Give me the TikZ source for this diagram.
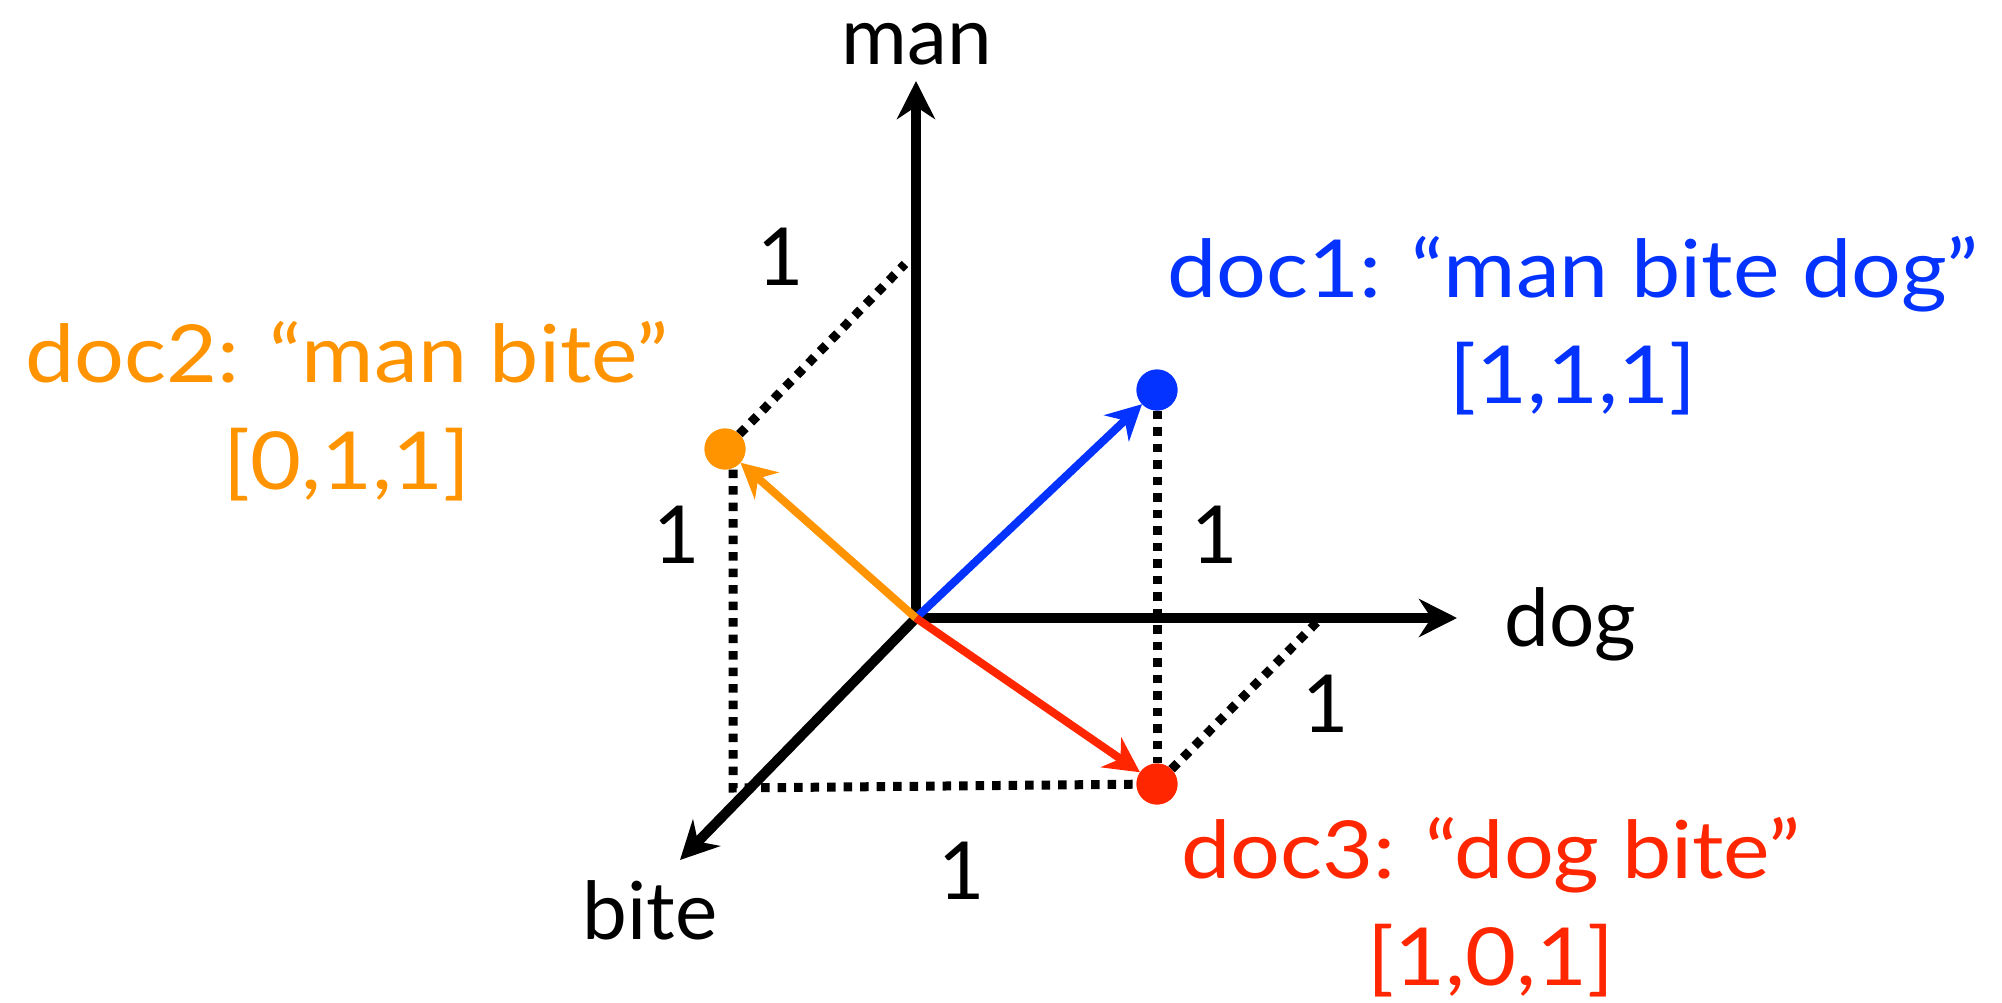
\documentclass[tikz,border=0pt]{standalone}
\usepackage{fontspec}
\setmainfont{Lato}
\newfontfamily\docfont{Lato}[FakeStretch=1.1]
\usetikzlibrary{positioning,arrows.meta}

\definecolor{docblue}{RGB}{4,51,255}
\definecolor{docorange}{RGB}{255,147,0}
\definecolor{docred}{RGB}{255,38,0}

\tikzset{
  axis/.style={line width=10pt, -{Stealth[length=38pt,width=38pt]}},
  docvec/.style={line width=8pt, draw=#1, -{Stealth[length=35pt,width=36pt]}},
  proj/.style={line width=9pt, dash pattern=on 8.5pt off 8pt},
  docdot/.style={circle, fill=#1, inner sep=0pt, minimum size=41pt},
  word/.style={font=\fontsize{80}{96}\selectfont, anchor=base, inner sep=0pt},
  doctext/.style={word, text=#1, font=\docfont\fontsize{80}{96}\selectfont},
}

\begin{document}
\begin{tikzpicture}[x=1pt, y=-1pt]
  \useasboundingbox (0,0) rectangle (2002,1003);
  \coordinate (o) at (916,618);
  \coordinate [above=537pt of o] (mantip);
  \coordinate [right=541pt of o] (dogtip);
  \coordinate [below left=242pt and 236pt of o] (bitetip);
  \coordinate [above left=354pt and 11pt of o] (manpt);
  \coordinate [right=405pt of o] (dogpt);
  \coordinate [below left=170pt and 183pt of o] (bitept);
  \node [docdot=docblue, above right=228pt and 241pt of o, anchor=center] (d1) {};
  \node [docdot=docorange, above left=169pt and 191pt of o, anchor=center] (d2) {};
  \node [docdot=docred, below right=166pt and 241pt of o, anchor=center] (d3) {};

  % dotted projections
  \draw [proj] (d2) -- (manpt);
  \draw [proj] (d2.south -| bitept) -- (bitept) -- (d3);
  \draw [proj] (d1) -- (d3);
  \draw [proj] (d3) -- (dogpt);

  % axes
  \draw [axis] (o) -- (mantip);
  \draw [axis] (o) -- (dogtip);
  \draw [axis] (o) -- (bitetip);

  % document vectors
  \draw [docvec=docblue] (o) -- (d1);
  \draw [docvec=docorange] (o) -- (d2);
  \draw [docvec=docred] (o) -- (d3);
  \node [docdot=docblue] at (d1) {};
  \node [docdot=docorange] at (d2) {};
  \node [docdot=docred] at (d3) {};

  \node [word] (manlbl) at (917,65) {man};
  \node [word] (doglbl) at (1570,646) {dog};
  \node [word] (bitelbl) at (650,939) {bite};
  \node [word] (onea) at (781,285) {1};
  \node [word] (oneb) at (677,563) {1};
  \node [word] (onec) at (1215,563) {1};
  \node [word] (oned) at (962,899) {1};
  \node [word] (onee) at (1326,732) {1};

  \node [doctext=docblue] (doc1) at (1573,297) {doc1: “man bite dog”};
  \node [doctext=docblue] (vec1) at ([yshift=-106pt]doc1.base) {[1,1,1]};
  \node [doctext=docorange] (doc2) at (347,382) {doc2: “man bite”};
  \node [doctext=docorange] (vec2) at ([yshift=-107pt]doc2.base) {[0,1,1]};
  \node [doctext=docred] (doc3) at (1491,878) {doc3: “dog bite”};
  \node [doctext=docred] (vec3) at ([yshift=-107pt]doc3.base) {[1,0,1]};
\end{tikzpicture}
\end{document}
